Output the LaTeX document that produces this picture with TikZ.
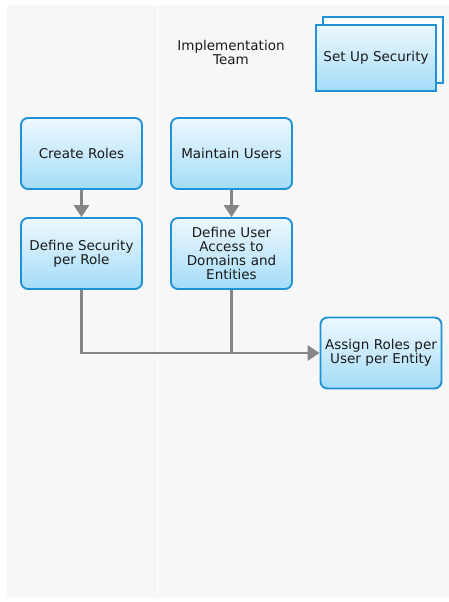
\documentclass[tikz,border=0pt]{standalone}
\usepackage{fontspec}
\setmainfont{DejaVu Sans}
\usetikzlibrary{arrows.meta}
\definecolor{lane}{HTML}{F7F7F7}
\definecolor{edge}{HTML}{1E92D4}
\definecolor{lite}{HTML}{EEF8FE}
\definecolor{deep}{HTML}{A4DCF8}
\definecolor{flowgray}{HTML}{858585}
\definecolor{ink}{HTML}{1A1A1A}

\begin{document}
\begin{tikzpicture}[x=1pt,y=-1pt,
    task/.style={draw=edge,line width=1.9pt,rounded corners=7pt,top color=lite,bottom color=deep,
      minimum width=121pt,minimum height=71pt,text width=118pt,align=center,inner sep=1pt,
      text=ink,font=\fontsize{13.5}{13.8}\selectfont},
    sub/.style={task,rounded corners=0pt,minimum width=115pt,minimum height=66pt},
    flow/.style={draw=flowgray,line width=2.8pt,-{Triangle[length=12pt,width=15pt]}},
    merge/.style={draw=flowgray,line width=2.8pt}]
  \useasboundingbox (0,0) rectangle (449,602);
  \fill[lane] (7,5) rectangle (449,598);
  \draw[white,line width=1pt] (157,5) -- (157,598);
  \node[text=ink,align=center,font=\fontsize{13.5}{14}\selectfont] (team) at (231,52) {Implementation\\Team};
  \node[sub,top color=white,bottom color=lite] (back) at (383,50) {};
  \node[sub] (front) at (376,58) {Set Up Security};
  \node[task] (roles) at (81.5,153.5) {Create Roles};
  \node[task] (users) at (231.5,153.5) {Maintain Users};
  \node[task] (secrole) at (81.5,253.5) {Define Security\\per Role};
  \node[task] (access) at (231.5,253.5) {Define User\\Access to\\Domains and\\Entities};
  \node[task] (assign) at (381,353) {Assign Roles per\\User per Entity};
  \draw[flow] (roles) -- (secrole);
  \draw[flow] (users) -- (access);
  \draw[flow] (secrole.south) |- (assign.west);
  \draw[merge] (access.south) -- (access.south |- assign.west);
\end{tikzpicture}
\end{document}
